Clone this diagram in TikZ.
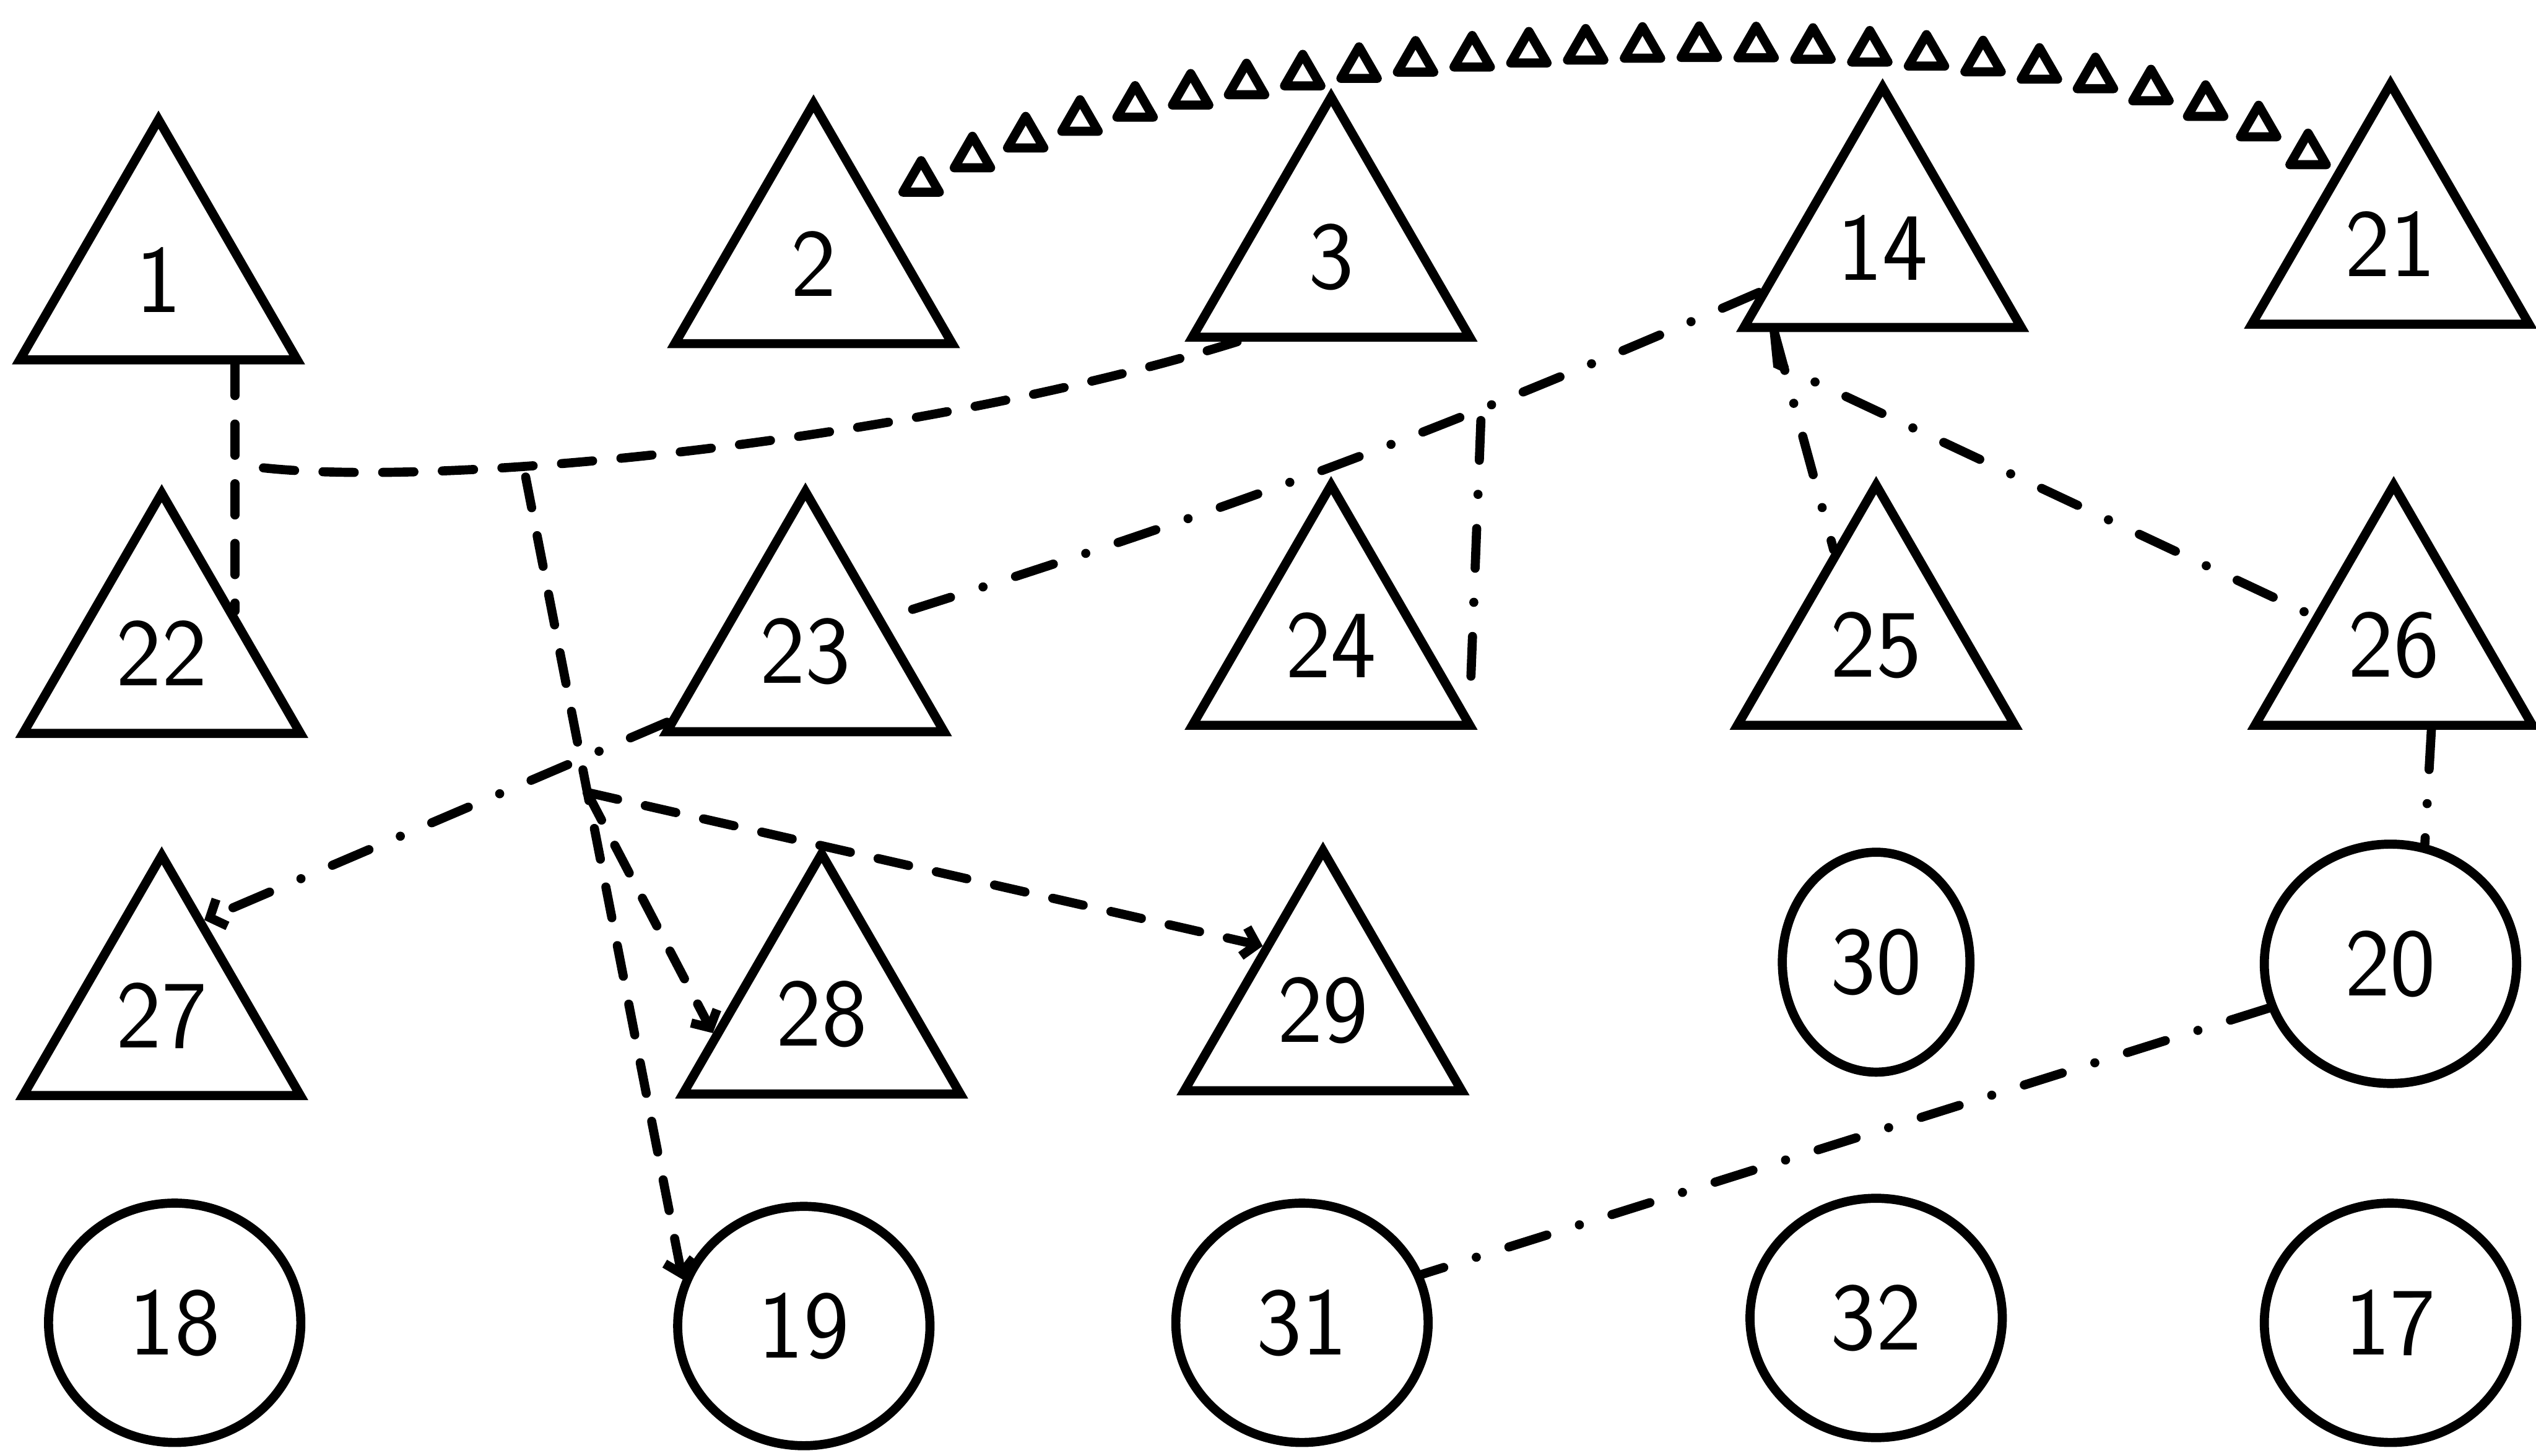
\documentclass[tikz,border=0pt]{standalone}
\usetikzlibrary{shapes.geometric,arrows.meta,decorations.markings}
\begin{document}
\begin{tikzpicture}[
  >={Straight Barb[length=0.8mm,width=1.8mm]},
  trinode/.style={regular polygon, regular polygon sides=3, draw=black, line width=1.6pt, minimum size=19.8mm, inner sep=0pt, font={\sffamily\fontsize{17}{20}\selectfont}},
  cirnode/.style={ellipse, draw=black, line width=1.6pt, minimum width=15.6mm, minimum height=14.8mm, inner sep=0pt, font={\sffamily\fontsize{17}{20}\selectfont}},
  dashedge/.style={draw=black, line width=1.6pt, line cap=round, dash pattern=on 5.5pt off 5pt},
  dotedge/.style={draw=black, line width=1.6pt, line cap=round, dash pattern=on 7pt off 6pt on 0.01pt off 6pt},
  tinytri/.style={regular polygon, regular polygon sides=3, draw=black, line width=1.6pt, line join=round, minimum size=2.6mm, inner sep=0pt},
  trichain/.style={postaction={decorate}, decoration={markings, mark=between positions 0.033 and 1 step 0.0378 with {\node[tinytri] {};}}}
]
\useasboundingbox (0,0) rectangle (15.68,9.00);
\node[trinode] (n1) at (0.98,7.27) {1};
\node[trinode] (n2) at (5.03,7.37) {2};
\node[trinode] (n3) at (8.23,7.41) {3};
\node[trinode] (n14) at (11.64,7.47) {14};
\node[trinode] (n21) at (14.78,7.49) {21};
\node[trinode] (n22) at (1.00,4.96) {22};
\node[trinode] (n23) at (4.98,4.97) {23};
\node[trinode] (n24) at (8.23,5.01) {24};
\node[trinode] (n25) at (11.60,5.01) {25};
\node[trinode] (n26) at (14.80,5.01) {26};
\node[trinode] (n27) at (1.00,2.72) {27};
\node[trinode] (n28) at (5.08,2.73) {28};
\node[trinode] (n29) at (8.18,2.75) {29};
\node[cirnode, minimum width=11.6mm, minimum height=13.6mm] (n30) at (11.60,3.05) {30};
\node[cirnode] (n20) at (14.78,3.04) {20};
\node[cirnode] (n18) at (1.08,0.82) {18};
\node[cirnode] (n19) at (4.97,0.80) {19};
\node[cirnode] (n31) at (8.05,0.82) {31};
\node[cirnode] (n32) at (11.60,0.85) {32};
\node[cirnode] (n17) at (14.78,0.82) {17};
\coordinate (jl) at (1.46,6.13);
\coordinate (jt) at (3.25,6.05);
\coordinate (hub) at (3.63,4.10);
\coordinate (k24) at (9.16,6.50);
% chain of small triangles
\path[trichain] (n2.40) .. controls (7.00,8.90) and (13.30,9.10) .. (n21.130);
% dashed lines
\draw[dashedge] (n1.side 2 -| n22.side 3) -- (n22.side 3);
\draw[dashedge] (n3.222) .. controls (5.60,6.25) and (2.50,5.95) .. (jl);
\draw[dashedge,->] (jt) -- (n19.159);
\draw[dashedge,->] (hub) -- (n28.190);
\draw[dashedge,->] (hub) -- (n29.133);
% dash-dot lines
\draw[dotedge] (n14.200) to[bend left=3] (n23.23);
\draw[dotedge] ([xshift=1.5mm]n24.-15) -- (k24);
\draw[dotedge] (n14.218) -- (n25.114);
\draw[dotedge] (n14.218) -- ++(0.02,-0.20) -- (n26.160);
\draw[dotedge] (n26.-66) -- (n20.74);
\draw[dotedge] (n20.200) -- (n31.22);
\draw[dotedge,->] (n23.207) -- (n27.66);
\end{tikzpicture}
\end{document}
